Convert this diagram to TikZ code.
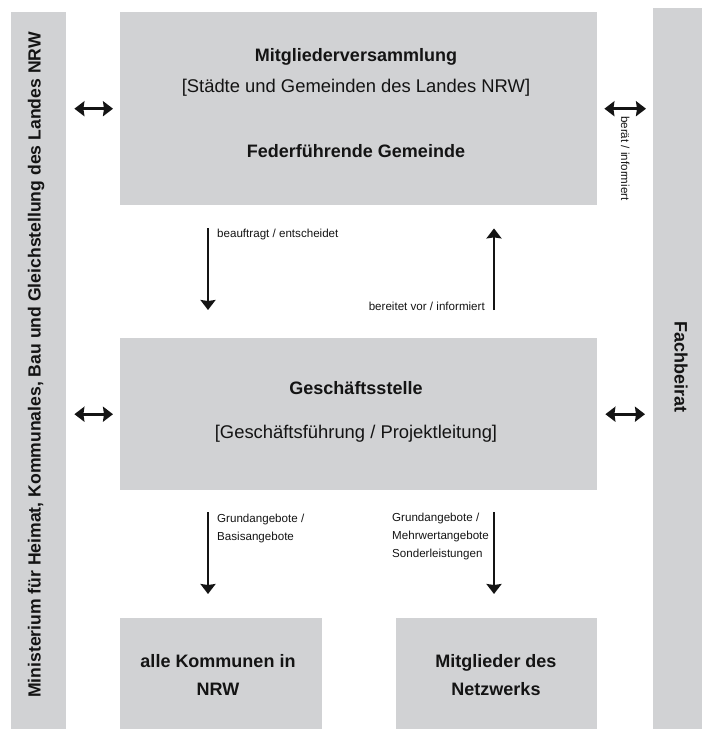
\documentclass[tikz,border=0pt]{standalone}
\usepackage{fontspec}
\setmainfont{Liberation Sans}
\usetikzlibrary{arrows.meta, positioning}
\definecolor{boxgray}{RGB}{209,210,212}
\definecolor{ink}{RGB}{20,20,20}
\tikzset {
    >={Stealth[length=10pt, width=15pt, inset=1pt]},
    block/.style={fill=boxgray, draw=none, inner sep=0pt, anchor=north west},
    flow/.style={->, line width=2.8pt, draw=ink},
    both/.style={<->, line width=2.8pt, draw=ink}
}

\begin{document}
\begin{tikzpicture}[
  x=1pt, y=-1pt,
  title/.style={font=\fontsize{18}{22}\selectfont\bfseries, text=ink, inner sep=0pt},
  sub/.style={font=\fontsize{18.4}{22}\selectfont, text=ink, inner sep=0pt},
  small/.style={font=\fontsize{11.6}{18}\selectfont, text=ink, inner sep=0pt, align=left}
  ]
\useasboundingbox (0,0) rectangle (702,729);

% Balken links und rechts
\node[block, minimum width=55pt, minimum height=717pt] (ministerium) at (11,12) {};
\node[block, minimum width=49pt, minimum height=721pt] (fachbeirat) at (653,8) {};
\node[title, font=\fontsize{17.6}{22}\selectfont\bfseries, rotate=90] at (36,365)
  {Ministerium für Heimat, Kommunales, Bau und Gleichstellung des Landes NRW};
\node[title, rotate=-90] at (681,367) {Fachbeirat};

% Kaesten
\node[block, minimum width=477pt, minimum height=193pt] (versammlung) at (120,12) {};
\node[block, minimum width=477pt, minimum height=152pt] (geschaeft) at (120,338) {};
\node[block, minimum width=202pt, minimum height=111pt] (kommunen) at (120,618) {};
\node[block, minimum width=201pt, minimum height=111pt] (mitglieder) at (396,618) {};

\node[title, anchor=base] at (356,61) {Mitgliederversammlung};
\node[sub, anchor=base] at (356,92) {[Städte und Gemeinden des Landes NRW]};
\node[title, anchor=base] at (356,157) {Federführende Gemeinde};

\node[title, anchor=base] at (356,394) {Geschäftsstelle};
\node[sub, anchor=base] at (356,438) {[Geschäftsführung / Projektleitung]};

\node[title, anchor=base] at (218,667) {alle Kommunen in};
\node[title, anchor=base] at (218,695) {NRW};
\node[title, anchor=base] at (496,667) {Mitglieder des};
\node[title, anchor=base] at (496,695) {Netzwerks};

% Pfeile
\coordinate (lcol) at (208,0);
\coordinate (rcol) at (494,0);

\draw[both, shorten <=8pt, shorten >=7pt] (ministerium.east |- versammlung.west) -- (versammlung.west);
\draw[both, shorten <=8pt, shorten >=7pt] (ministerium.east |- geschaeft.west) -- (geschaeft.west);
\draw[both, shorten <=7pt, shorten >=7pt] (versammlung.east) -- (fachbeirat.west |- versammlung.east);
\draw[both, shorten <=8pt, shorten >=8pt] (geschaeft.east) -- (fachbeirat.west |- geschaeft.east);

\draw[flow, shorten <=23pt, shorten >=28pt] (versammlung.south -| lcol) -- (geschaeft.north -| lcol);
\draw[flow, shorten <=28pt, shorten >=23pt] (geschaeft.north -| rcol) -- (versammlung.south -| rcol);
\draw[flow, shorten <=22pt, shorten >=24pt] (geschaeft.south -| lcol) -- (kommunen.north -| lcol);
\draw[flow, shorten <=22pt, shorten >=24pt] (geschaeft.south -| rcol) -- (mitglieder.north -| rcol);

% Beschriftungen
\node[small, anchor=base west, rotate=-90] at (621,116) {berät / informiert};
\node[small, anchor=base west] at (217,237) {beauftragt / entscheidet};
\node[small, anchor=base east] at (485,310) {bereitet vor / informiert};
\node[small, anchor=north west] at (217,513.7) {Grundangebote /\\Basisangebote};
\node[small, anchor=north west] at (392,512.7) {Grundangebote /\\Mehrwertangebote\\Sonderleistungen};

\end{tikzpicture}
\end{document}
